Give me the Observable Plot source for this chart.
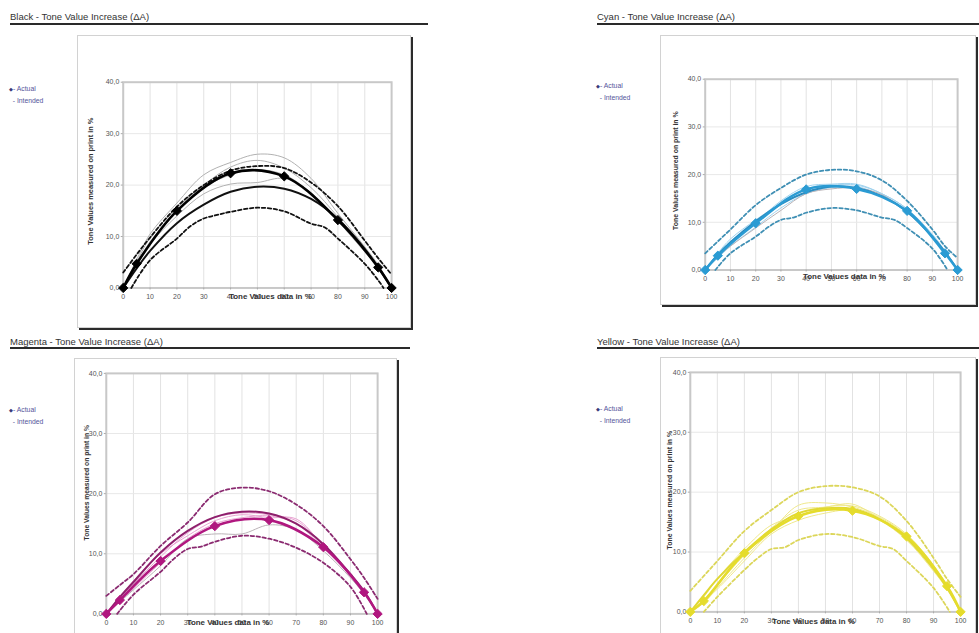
<!DOCTYPE html>
<html>
<head>
<meta charset="utf-8">
<script src="https://cdn.jsdelivr.net/npm/d3@7"></script>
<script src="https://cdn.jsdelivr.net/npm/@observablehq/plot@0.6"></script>
<style>
  html, body { margin: 0; padding: 0; background: #fff; }
  #page { position: relative; width: 979px; height: 633px; overflow: hidden; font-family: "Liberation Sans", Arial, sans-serif; }
  .title { position: absolute; font-size: 9.5px; color: #333; white-space: nowrap; }
  .rule { position: absolute; height: 2px; background: #2a2a2a; }
  .legend { position: absolute; font-size: 6.8px; color: #55559a; line-height: 11px; white-space: nowrap; }
  .legend .d { font-size: 5px; color: #3a3a7a; }
  .box { position: absolute; box-sizing: border-box; border: 1px solid #d2d2d2; background: #fff; box-shadow: 2px 2px 0 0 #2b2b2b; }
  .box svg { position: absolute; left: -1px; top: -1px; overflow: visible; }
</style>
</head>
<body>
<div id="page"></div>
<script>
// ---------- data ----------
const xTicks = [0, 10, 20, 30, 40, 50, 60, 70, 80, 90, 100];
const yTicks = [0, 10, 20, 30, 40];
const diamondX = [0, 5, 20, 40, 60, 80, 95, 100];
const curveX = [0, 5, 10, 20, 30, 40, 50, 60, 70, 80, 90, 95, 100];
const upperX = [0, 5, 10, 20, 30, 40, 50, 60, 70, 80, 90, 95, 100];

// Black
const blackActual = [0, 4.7, 15.0, 22.3, 21.7, 13.2, 4.0, 0];
const blackIntended = [0, 3.8, 7.2, 12.6, 16.2, 18.7, 19.7, 19.3, 17.3, 13.4, 7.6, 4.0, 0];
const blackUpper = [3.0, 6.5, 9.8, 15.8, 20.0, 22.8, 23.7, 23.3, 20.5, 15.9, 9.2, 5.8, 2.6];
const blackLowerX = [3, 10, 20, 25, 30, 35, 40, 50, 60, 70, 75, 80, 90, 95, 97];
const blackLower = [0, 5.4, 9.6, 12.0, 13.5, 14.2, 14.8, 15.6, 14.9, 12.5, 11.8, 9.6, 4.7, 1.5, 0];
const blackSample1 = [0, 5.5, 10.5, 16.5, 22.0, 24.4, 26.0, 25.3, 21.3, 14.5, 8.0, 4.5, 0];
const blackSample2 = [0, 5.0, 9.8, 15.5, 20.0, 23.5, 24.8, 23.3, 19.5, 13.8, 7.5, 4.2, 0];
const blackSample3 = [0, 4.3, 8.5, 14.0, 18.3, 20.2, 20.5, 21.3, 18.5, 13.0, 7.0, 4.0, 0];
const blackSample4 = [0, 4.6, 9.0, 14.7, 19.5, 22.0, 23.0, 22.0, 18.5, 13.3, 7.2, 4.0, 0];

// Cyan
const cyanActual = [0, 3.0, 9.8, 16.9, 17.0, 12.4, 3.5, 0];
const cyanIntended = [0, 3.2, 5.8, 10.2, 13.8, 16.3, 17.5, 17.2, 15.5, 12.2, 7.0, 3.8, 0];
const cyanUpper = [3.5, 6.0, 8.5, 13.6, 17.2, 20.0, 21.0, 20.7, 18.8, 14.5, 8.5, 5.0, 2.5];
const cyanLowerX = [4, 10, 20, 25, 30, 35, 40, 50, 60, 70, 75, 80, 90, 96];
const cyanLower = [0, 3.5, 7.0, 9.0, 10.5, 11.0, 12.0, 13.0, 12.5, 11.0, 10.5, 8.8, 4.5, 0];
const cyanSample1 = [0, 3.2, 6.0, 10.0, 14.5, 17.5, 18.0, 18.0, 16.0, 12.8, 7.3, 3.8, 0];
const cyanSample2 = [0, 2.5, 5.0, 9.0, 13.0, 16.0, 17.3, 17.5, 15.5, 12.0, 6.8, 3.5, 0];
const cyanSample3 = [0, 3.5, 6.5, 10.5, 14.0, 17.0, 17.8, 17.8, 16.0, 12.8, 7.5, 4.0, 0];
const cyanSample4 = [0, 2.8, 5.0, 8.8, 12.5, 16.0, 17.0, 17.2, 15.8, 12.2, 7.0, 3.6, 0];

// Magenta
const magentaActual = [0, 2.3, 8.8, 14.6, 15.6, 11.1, 3.6, 0];
const magentaIntended = [0, 2.8, 5.3, 10.2, 13.8, 16.1, 17.0, 16.7, 15.0, 11.6, 6.6, 3.8, 0];
const magentaUpper = [3.0, 4.8, 6.6, 11.3, 15.2, 19.9, 21.0, 20.4, 18.2, 14.6, 9.1, 6.0, 2.5];
const magentaLowerX = [4, 10, 20, 25, 30, 35, 40, 50, 60, 70, 80, 90, 96];
const magentaLower = [0, 3.2, 7.0, 9.2, 10.8, 11.2, 12.0, 13.0, 12.5, 11.0, 8.5, 4.5, 0];
const magentaSample1 = [0, 2.5, 5.0, 9.5, 13.5, 16.0, 16.8, 16.5, 15.5, 11.5, 6.5, 3.5, 0];
const magentaSample2 = [0, 2.0, 4.2, 8.5, 12.5, 15.0, 16.0, 16.3, 15.0, 11.0, 6.3, 3.5, 0];
const magentaSample3 = [0, 2.8, 5.5, 10.0, 13.0, 15.5, 16.5, 16.0, 15.8, 11.3, 6.8, 3.7, 0];
const magentaSample4 = [0, 2.0, 4.0, 8.0, 12.5, 13.3, 13.3, 14.8, 14.0, 10.5, 6.0, 3.3, 0];

// Yellow
const yellowActual = [0, 1.8, 9.8, 16.0, 16.9, 12.6, 4.3, 0];
const yellowIntended = [0, 2.8, 5.5, 10.0, 13.8, 16.5, 17.3, 17.2, 15.5, 12.3, 7.2, 4.0, 0];
const yellowUpper = [3.5, 6.0, 8.5, 13.5, 17.0, 20.0, 21.0, 20.8, 19.3, 15.2, 9.0, 5.5, 2.5];
const yellowLowerX = [5, 10, 20, 25, 30, 35, 40, 50, 60, 70, 75, 80, 90, 96];
const yellowLower = [0, 2.5, 7.0, 9.0, 10.5, 10.8, 12.0, 13.0, 12.5, 11.0, 10.5, 8.5, 4.0, 0];
const yellowSample1 = [0, 2.0, 4.5, 9.5, 14.0, 17.0, 17.5, 18.0, 15.5, 12.2, 7.0, 4.0, 0];
const yellowSample2 = [0, 1.5, 4.0, 9.0, 13.5, 17.8, 18.2, 17.5, 15.8, 12.8, 7.5, 4.5, 0];
const yellowSample3 = [0, 2.5, 5.5, 10.5, 14.5, 16.0, 17.5, 17.7, 16.0, 13.0, 7.8, 4.2, 0];
const yellowSample4 = [0, 1.8, 3.8, 8.5, 13.0, 15.3, 16.5, 17.0, 15.3, 12.0, 6.8, 3.8, 0];

const titles = ["Black - Tone Value Increase (\u0394A)", "Cyan - Tone Value Increase (\u0394A)",
                "Magenta - Tone Value Increase (\u0394A)", "Yellow - Tone Value Increase (\u0394A)"];
const legendLabels = ["Actual", "Intended"];
const xTitle = "Tone Values data in %";
const yTitle = "Tone Values measured on print in %";

// ---------- layout / style ----------
const panels = [
  { title: titles[0], tx: 10, ty: 11, rule: [10, 23, 418], leg: [9, 83],
    box: [77, 35, 334, 293], m: [47, 18, 39, 46],
    actual: blackActual, intended: blackIntended, upper: blackUpper, lowerX: blackLowerX, lower: blackLower,
    samples: [blackSample1, blackSample2, blackSample3, blackSample4],
    color: "#000", intendedColor: "#111", dashColor: "#111", sampleColor: "#b0b0b0",
    yTitleDx: -33, yTitleDy: -4, yTitleSize: 7.5, xTitleDx: 13, xTitleDy: 11 },
  { title: titles[1], tx: 597, ty: 11, rule: [597, 23, 382], leg: [596, 80],
    box: [660, 35, 316, 270], m: [44, 17, 34, 45],
    actual: cyanActual, intended: cyanIntended, upper: cyanUpper, lowerX: cyanLowerX, lower: cyanLower,
    samples: [cyanSample1, cyanSample2, cyanSample3, cyanSample4],
    color: "#2b9bd3", intendedColor: "#2a8cc0", dashColor: "#3f8fb4", sampleColor: "#9fd2ee",
    yTitleDx: -30, yTitleDy: -4, yTitleSize: 7, xTitleDx: 13, xTitleDy: 9 },
  { title: titles[2], tx: 10, ty: 336, rule: [10, 347, 400], leg: [9, 404],
    box: [74, 358, 323, 300], m: [15, 18, 43, 32],
    actual: magentaActual, intended: magentaIntended, upper: magentaUpper, lowerX: magentaLowerX, lower: magentaLower,
    samples: [magentaSample1, magentaSample2, magentaSample3, magentaSample4],
    color: "#b0177f", intendedColor: "#8e1f6c", dashColor: "#8a2a70", sampleColor: "#e8a3d2",
    yTitleDx: -20, yTitleDy: -11, yTitleSize: 6.8, xTitleDx: -14, xTitleDy: 11 },
  { title: titles[3], tx: 597, ty: 336, rule: [597, 347, 382], leg: [596, 403],
    box: [660, 357, 316, 300], m: [15, 14, 44, 30],
    actual: yellowActual, intended: yellowIntended, upper: yellowUpper, lowerX: yellowLowerX, lower: yellowLower,
    samples: [yellowSample1, yellowSample2, yellowSample3, yellowSample4],
    color: "#e5dc2c", intendedColor: "#e0d833", dashColor: "#dcd65a", sampleColor: "#efe88c",
    yTitleDx: -21, yTitleDy: -2, yTitleSize: 7, xTitleDx: -12, xTitleDy: 12 }
];
// the magenta samples include one greyish line
const greySampleIndex = { 2: 3, 1: 3 };

const pts = (xs, ys) => xs.map((x, i) => ({ x, y: ys[i] }));
const fmt = d => d.toFixed(1).replace(".", ",");

const page = document.getElementById("page");
function addDiv(cls, css, html) {
  const d = document.createElement("div");
  d.className = cls;
  Object.assign(d.style, css);
  if (html != null) d.innerHTML = html;
  page.appendChild(d);
  return d;
}

panels.forEach((p, pi) => {
  addDiv("title", { left: p.tx + "px", top: p.ty + "px" }).textContent = p.title;
  addDiv("rule", { left: p.rule[0] + "px", top: p.rule[1] + "px", width: p.rule[2] + "px" });
  addDiv("legend", { left: p.leg[0] + "px", top: p.leg[1] + "px" },
    `<span class="d">&#9670;</span>- ${legendLabels[0]}<br>&nbsp;&nbsp;- ${legendLabels[1]}`);
  const box = addDiv("box", { left: p.box[0] + "px", top: p.box[1] + "px", width: p.box[2] + "px", height: p.box[3] + "px" });

  const sampleMarks = p.samples.map((s, si) =>
    Plot.line(pts(curveX, s), { x: "x", y: "y", curve: "catmull-rom",
      stroke: greySampleIndex[pi] === si ? "#b9b2b6" : p.sampleColor, strokeWidth: 1 }));

  const chart = Plot.plot({
    width: p.box[2], height: p.box[3],
    marginTop: p.m[0], marginRight: p.m[1], marginBottom: p.m[2], marginLeft: p.m[3],
    style: { fontFamily: "'Liberation Sans', Arial, sans-serif", fontSize: "7px", color: "#555", background: "transparent" },
    x: { domain: [0, 100] },
    y: { domain: [0, 40] },
    marks: [
      Plot.gridX(xTicks, { stroke: "#e2e2e2", strokeOpacity: 1 }),
      Plot.gridY(yTicks, { stroke: "#e8e8e8", strokeOpacity: 1 }),
      Plot.frame({ stroke: "#c8c8c8", strokeWidth: 2 }),
      Plot.axisX(xTicks, { tickSize: 2, tickPadding: 4, label: null, stroke: "#aaa", fill: "#555" }),
      Plot.axisY(yTicks, { tickSize: 2, tickPadding: 2, label: null, tickFormat: fmt, stroke: "#aaa", fill: "#555" }),
      ...sampleMarks,
      Plot.line(pts(upperX, p.upper), { x: "x", y: "y", curve: "catmull-rom", stroke: p.dashColor, strokeWidth: 1.8, strokeDasharray: "3.5,2.5" }),
      Plot.line(pts(p.lowerX, p.lower), { x: "x", y: "y", curve: "catmull-rom", stroke: p.dashColor, strokeWidth: 1.8, strokeDasharray: "3.5,2.5" }),
      Plot.line(pts(curveX, p.intended), { x: "x", y: "y", curve: "catmull-rom", stroke: p.intendedColor, strokeWidth: 2 }),
      Plot.line(pts(diamondX, p.actual), { x: "x", y: "y", curve: "catmull-rom", stroke: p.color, strokeWidth: 2.6 }),
      Plot.dot(pts(diamondX, p.actual), { x: "x", y: "y", symbol: "diamond2", r: 4.2, fill: p.color, stroke: p.color, strokeWidth: 1 }),
      Plot.text([xTitle], { frameAnchor: "bottom", dx: p.xTitleDx, dy: p.xTitleDy, fontWeight: "bold", fill: "#333", fontSize: 8 }),
      Plot.text([yTitle], { frameAnchor: "left", textAnchor: "middle", rotate: -90, dx: p.yTitleDx, dy: p.yTitleDy, fontWeight: "bold", fill: "#333", fontSize: p.yTitleSize })
    ]
  });
  box.appendChild(chart);
});
</script>
</body>
</html>
